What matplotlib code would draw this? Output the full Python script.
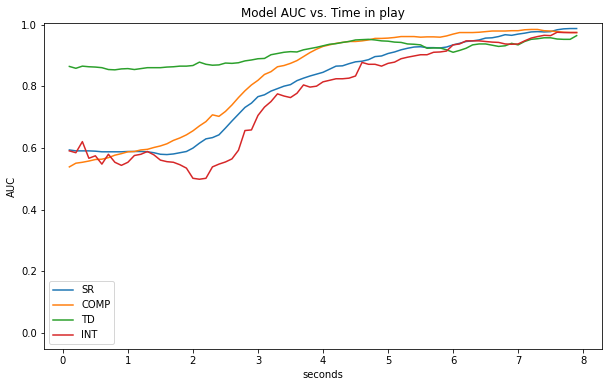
import numpy as np
import matplotlib
matplotlib.use('Agg')
import matplotlib.pyplot as plt

# time in play, seconds
seconds = np.arange(1, 80) / 10

sr = [0.594, 0.591, 0.591, 0.591, 0.590, 0.588, 0.588, 0.588, 0.588, 0.589, 0.589, 0.589, 0.588, 0.585, 0.580, 0.579, 0.581, 0.585,
      0.589, 0.600, 0.616, 0.630, 0.634, 0.643, 0.665, 0.688, 0.710, 0.732, 0.746, 0.767, 0.773, 0.785, 0.793, 0.801, 0.806,
      0.819, 0.827, 0.834, 0.840, 0.846, 0.856, 0.866, 0.867, 0.874, 0.880, 0.882, 0.887, 0.897, 0.899, 0.907, 0.912, 0.919, 0.924,
      0.928, 0.929, 0.926, 0.926, 0.925, 0.928, 0.935, 0.940, 0.946, 0.948, 0.951, 0.957, 0.958, 0.962, 0.968,
      0.966, 0.970, 0.973, 0.977, 0.978, 0.977, 0.978, 0.984, 0.987, 0.988, 0.988]

comp = [0.539, 0.551, 0.554, 0.558, 0.563, 0.564, 0.569, 0.577, 0.582, 0.588, 0.589, 0.594, 0.596, 0.602, 0.607, 0.614, 0.625, 0.633,
        0.643, 0.656, 0.672, 0.686, 0.708, 0.703, 0.719, 0.740, 0.764, 0.786, 0.805, 0.820, 0.839, 0.848, 0.864, 0.868, 0.875,
        0.884, 0.897, 0.910, 0.921, 0.930, 0.935, 0.940, 0.943, 0.946, 0.946, 0.948, 0.951, 0.956, 0.956, 0.957, 0.959, 0.962, 0.962,
        0.962, 0.960, 0.961, 0.961, 0.960, 0.964, 0.970, 0.975, 0.975, 0.975, 0.976, 0.978, 0.980, 0.980, 0.980,
        0.981, 0.981, 0.984, 0.985, 0.985, 0.981, 0.980, 0.978, 0.976, 0.975, 0.975]

td = [0.865, 0.859, 0.866, 0.864, 0.863, 0.861, 0.855, 0.854, 0.857, 0.858, 0.855, 0.858, 0.861, 0.861, 0.861, 0.863, 0.864, 0.866,
      0.866, 0.868, 0.879, 0.872, 0.869, 0.870, 0.876, 0.875, 0.877, 0.883, 0.886, 0.890, 0.891, 0.903, 0.907, 0.911, 0.913,
      0.912, 0.919, 0.923, 0.927, 0.932, 0.937, 0.939, 0.943, 0.946, 0.951, 0.952, 0.953, 0.951, 0.948, 0.947, 0.944, 0.943, 0.938,
      0.937, 0.935, 0.924, 0.925, 0.925, 0.919, 0.911, 0.917, 0.924, 0.935, 0.938, 0.938, 0.934, 0.930, 0.932,
      0.940, 0.935, 0.946, 0.953, 0.955, 0.958, 0.958, 0.954, 0.953, 0.953, 0.965]

intr = [0.591, 0.585, 0.621, 0.567, 0.575, 0.548, 0.580, 0.554, 0.544, 0.554, 0.576, 0.580, 0.589, 0.578, 0.561, 0.556, 0.554, 0.546,
        0.535, 0.502, 0.499, 0.502, 0.539, 0.548, 0.555, 0.565, 0.593, 0.657, 0.659, 0.706, 0.733, 0.751, 0.776, 0.769, 0.764,
        0.778, 0.805, 0.798, 0.801, 0.815, 0.820, 0.825, 0.825, 0.827, 0.834, 0.878, 0.872, 0.872, 0.866, 0.875, 0.879, 0.890, 0.895,
        0.899, 0.903, 0.903, 0.911, 0.912, 0.915, 0.935, 0.938, 0.948, 0.948, 0.948, 0.946, 0.944, 0.943, 0.938,
        0.937, 0.938, 0.948, 0.957, 0.962, 0.966, 0.965, 0.976, 0.975, 0.975, 0.975]

fig = plt.figure(figsize=(609 / 72, 387 / 72), dpi=72)
ax = fig.add_axes([44 / 609, 38 / 387, 558 / 609, 326 / 387])

ax.plot(seconds, sr, label='SR')
ax.plot(seconds, comp, label='COMP')
ax.plot(seconds, td, label='TD')
ax.plot(seconds, intr, label='INT')

ax.set_ylim(-0.052, 1.006)
ax.set_title('Model AUC vs. Time in play')
ax.set_xlabel('seconds')
ax.set_ylabel('AUC')
ax.legend(loc='lower left')

fig.savefig('out.png', dpi=72)
